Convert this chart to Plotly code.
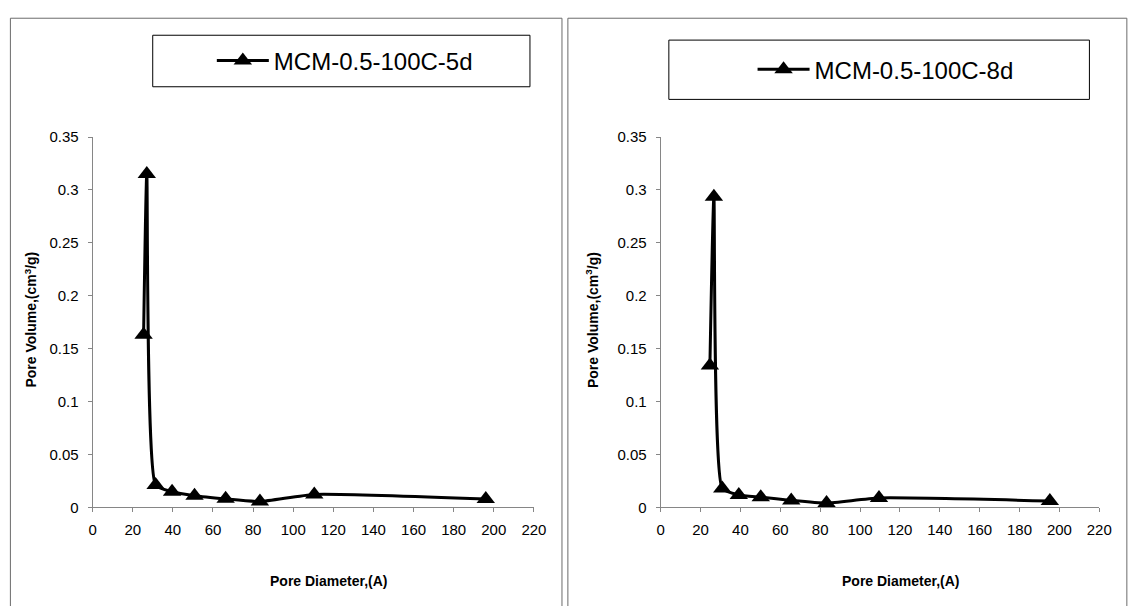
import plotly.graph_objects as go

W, H = 1130, 606

# ---- data ----
diam_5d = [25.4, 27.0, 31.4, 39.6, 50.8, 66.3, 83.4, 110.5, 196.0]
vol_5d = [0.163, 0.315, 0.021, 0.0147, 0.011, 0.008, 0.0055, 0.0122, 0.0078]
diam_8d = [24.7, 26.7, 30.9, 39.2, 50.2, 65.5, 83.2, 109.5, 195.2]
vol_8d = [0.134, 0.2936, 0.0178, 0.0117, 0.0096, 0.0065, 0.004, 0.0088, 0.006]
name_5d = "MCM-0.5-100C-5d"
name_8d = "MCM-0.5-100C-8d"
x_ticks = list(range(0, 221, 20))
y_ticks = [0, 0.05, 0.1, 0.15, 0.2, 0.25, 0.3, 0.35]
x_title = "Pore Diameter,(A)"
y_title = "Pore Volume,(cm<sup>3</sup>/g)"

FONT = "Arial, Liberation Sans, sans-serif"

def px(x):
    return x / W

def py(y):
    return 1 - y / H

fig = go.Figure()

line_style = dict(color="black", width=3, shape="spline", smoothing=0.5)
marker_style = dict(symbol="triangle-up", size=16, color="black")

fig.add_trace(go.Scatter(x=diam_5d, y=vol_5d, mode="lines+markers", name=name_5d,
                         line=line_style, marker=marker_style,
                         xaxis="x", yaxis="y", legend="legend"))
fig.add_trace(go.Scatter(x=diam_8d, y=vol_8d, mode="lines+markers", name=name_8d,
                         line=line_style, marker=marker_style,
                         xaxis="x2", yaxis="y2", legend="legend2"))

axis_common = dict(showline=True, linecolor="#868686", linewidth=1, ticks="outside",
                   ticklen=4, tickcolor="#868686", showgrid=False, zeroline=False,
                   tickfont=dict(family=FONT, size=15, color="black"), fixedrange=True)

y_dom = [py(512.7), py(131.7)]
fig.update_layout(
    width=W, height=H, margin=dict(l=0, r=0, t=0, b=0),
    paper_bgcolor="white", plot_bgcolor="white",
    xaxis=dict(domain=[px(90), px(538)], range=[0, 220], tickvals=x_ticks,
               anchor="y", ticklabelstandoff=5, **axis_common),
    yaxis=dict(domain=y_dom, range=[0, 0.35], tickvals=y_ticks, anchor="x",
               ticklabelstandoff=6, **axis_common),
    xaxis2=dict(domain=[px(666.7), px(1112)], range=[0, 220], tickvals=x_ticks,
                anchor="y2", ticklabelstandoff=5, **axis_common),
    yaxis2=dict(domain=y_dom, range=[0, 0.35], tickvals=y_ticks, anchor="x2",
                ticklabelstandoff=6, **axis_common),
    legend=dict(x=px(211), y=py(53.5), xanchor="left", yanchor="middle",
                bgcolor="rgba(0,0,0,0)", borderwidth=0,
                font=dict(family=FONT, size=24, color="black"), itemwidth=52),
    legend2=dict(x=px(760), y=py(62.5), xanchor="left", yanchor="middle",
                 bgcolor="rgba(0,0,0,0)", borderwidth=0,
                 font=dict(family=FONT, size=24, color="black"), itemwidth=52),
    showlegend=True,
)

shapes = [
    # outer chart borders
    dict(type="rect", xref="paper", yref="paper", x0=px(6.5), x1=px(566.5), y0=py(620), y1=py(9.5),
         line=dict(color="#6b6b6b", width=1)),
    dict(type="rect", xref="paper", yref="paper", x0=px(572.5), x1=px(1140), y0=py(620), y1=py(9.5),
         line=dict(color="#6b6b6b", width=1)),
    # legend boxes
    dict(type="rect", xref="paper", yref="paper", x0=px(151), x1=px(534), y0=py(80), y1=py(27),
         line=dict(color="black", width=1)),
    dict(type="rect", xref="paper", yref="paper", x0=px(675), x1=px(1102), y0=py(93), y1=py(32),
         line=dict(color="black", width=1)),
]
fig.update_layout(shapes=shapes)

title_font = dict(family=FONT, size=14, color="black")
annotations = [
    dict(text="<b>" + x_title + "</b>", x=px(329), y=py(588), xref="paper", yref="paper",
         showarrow=False, font=title_font, xanchor="center", yanchor="middle"),
    dict(text="<b>" + x_title + "</b>", x=px(910), y=py(588), xref="paper", yref="paper",
         showarrow=False, font=title_font, xanchor="center", yanchor="middle"),
    dict(text="<b>" + y_title + "</b>", x=px(27), y=py(320), xref="paper", yref="paper",
         showarrow=False, font=title_font, textangle=-90, xanchor="center", yanchor="middle"),
    dict(text="<b>" + y_title + "</b>", x=px(597), y=py(320), xref="paper", yref="paper",
         showarrow=False, font=title_font, textangle=-90, xanchor="center", yanchor="middle"),
]
fig.update_layout(annotations=annotations)

fig.write_html("out.html", config={"displayModeBar": False})
